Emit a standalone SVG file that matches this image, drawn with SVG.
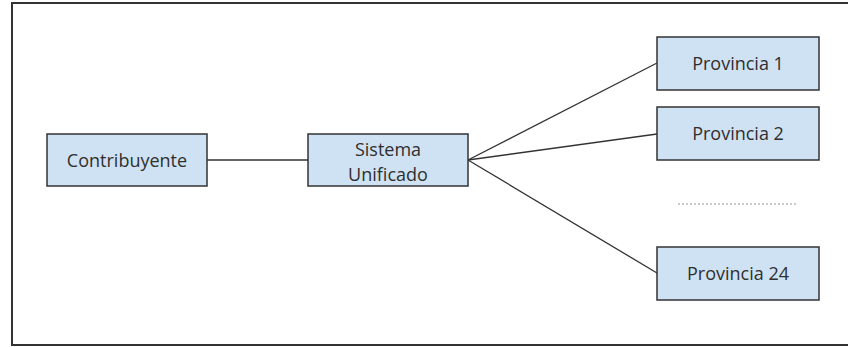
<svg xmlns="http://www.w3.org/2000/svg" width="848" height="347" viewBox="0 0 848 347">
<style>
.box{fill:#cfe2f3;stroke:#333;stroke-width:1.5}
.lbl{font-family:"Open Sans","Liberation Sans",sans-serif;font-size:18px;fill:#2f2f2f;text-anchor:middle}
.conn{stroke:#333;stroke-width:1.3;fill:none}
</style>
<rect x="0" y="0" width="848" height="347" fill="#fff"/>
<rect x="12" y="3" width="850" height="342" fill="none" stroke="#333" stroke-width="2"/>
<g id="connectors">
<line class="conn" x1="207" y1="160" x2="308" y2="160"/>
<line class="conn" x1="468" y1="160" x2="657" y2="63"/>
<line class="conn" x1="468" y1="160" x2="657" y2="134"/>
<line class="conn" x1="468" y1="160" x2="657" y2="273"/>
</g>
<g id="contribuyente">
<rect class="box" x="47" y="134" width="160" height="52"/>
<text class="lbl" x="127" y="167">Contribuyente</text>
</g>
<g id="sistema">
<rect class="box" x="308" y="134" width="160" height="52"/>
<text class="lbl" x="388" y="156">Sistema</text>
<text class="lbl" x="388" y="181">Unificado</text>
</g>
<g id="provincia1">
<rect class="box" x="657" y="37" width="162" height="53"/>
<text class="lbl" x="738" y="70">Provincia 1</text>
</g>
<g id="provincia2">
<rect class="box" x="657" y="107" width="162" height="53"/>
<text class="lbl" x="738" y="140">Provincia 2</text>
</g>
<g id="provincia24">
<rect class="box" x="657" y="247" width="162" height="53"/>
<text class="lbl" x="738" y="280">Provincia 24</text>
</g>
<line x1="678" y1="204" x2="798" y2="204" stroke="#999" stroke-width="1" stroke-dasharray="2,2"/>
</svg>
